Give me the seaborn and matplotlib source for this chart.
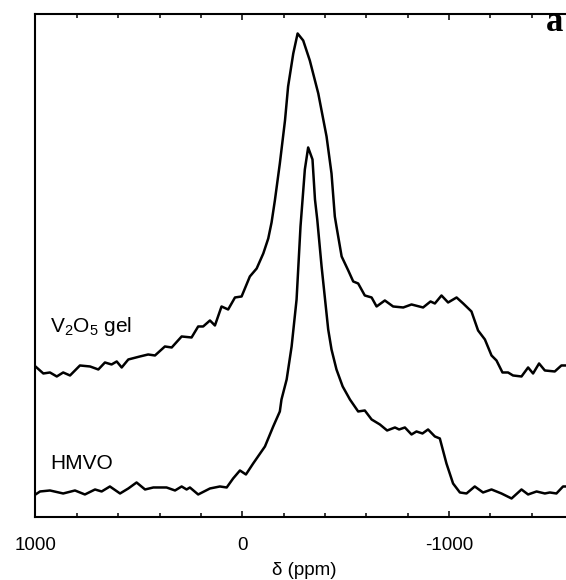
import matplotlib
matplotlib.use('Agg')
import matplotlib.pyplot as plt
import pandas as pd
import seaborn as sns
from matplotlib.ticker import MultipleLocator

# chemical shift (ppm) and intensity (a.u.)
gel_ppm = [1000, 962, 930, 897, 866, 833, 785, 736, 696, 664, 632, 607, 583, 551, 495, 455, 422,
           374, 341, 293, 245, 213, 189, 156, 132, 100, 68, 35, 3, -37, -70, -102, -126, -142,
           -158, -182, -207, -222, -247, -268, -295, -327, -368, -408, -432, -448, -456, -481,
           -513, -537, -561, -593, -626, -650, -690, -730, -779, -819, -875, -911, -932, -964,
           -996, -1037, -1069, -1109, -1141, -1174, -1206, -1230, -1259, -1286, -1310, -1351,
           -1383, -1407, -1436, -1464, -1512, -1544, -1565, -1600]
gel_int = [151, 144, 145, 141, 145, 142, 152, 151, 148, 155, 153, 156, 150, 158, 161, 163, 162,
           171, 170, 181, 180, 191, 191, 197, 192, 211, 208, 220, 221, 241, 249, 264, 279, 295,
           317, 354, 397, 431, 464, 484, 477, 457, 424, 381, 344, 301, 291, 261,
           247, 236, 234, 222, 220, 211, 217, 211, 210, 213, 210, 216, 214, 222,
           215, 220, 214, 206, 187, 178, 162, 157, 145, 145, 142, 141,
           150, 144, 154, 147, 146, 152, 152, 152]

hmvo_ppm = [1000, 978, 930, 866, 809, 761, 712, 680, 640, 591, 551, 511, 470, 430, 366, 325, 293,
            269, 253, 213, 156, 108, 75, 44, 11, -18, -53, -110, -150, -182, -190, -215, -239,
            -263, -282, -292, -303, -319, -340, -352, -363, -384, -416, -432, -456, -486, -513,
            -521, -561, -593, -626, -666, -701, -739, -759, -787, -819, -843, -872, -899, -932,
            -956, -988, -1020, -1053, -1085, -1125, -1165, -1206, -1254, -1303, -1351, -1383,
            -1424, -1464, -1488, -1520, -1552, -1569, -1600]
hmvo_int = [23, 26, 27, 24, 27, 23, 28, 26, 31, 24, 29, 35, 28, 30, 30, 27, 31,
            28, 30, 23, 29, 31, 30, 39, 47, 43, 54, 71, 91, 106, 118, 138, 171,
            218, 291, 318, 348, 370, 358, 318, 298, 251, 188, 168, 148, 131, 121,
            118, 106, 107, 98, 93, 87, 90, 88, 90, 83, 86, 84, 88, 81,
            79, 54, 34, 25, 24, 31, 25, 28, 24, 19, 28, 23,
            26, 24, 25, 24, 31, 31, 28]

sns.set_theme(style='ticks')
plt.rcParams['font.family'] = ['Liberation Sans', 'DejaVu Sans']
plt.rcParams['mathtext.fontset'] = 'custom'
plt.rcParams['mathtext.rm'] = 'Liberation Sans'
plt.rcParams['mathtext.it'] = 'Liberation Sans:italic'
plt.rcParams['axes.unicode_minus'] = False

gel = pd.DataFrame({'ppm': gel_ppm, 'intensity': gel_int})
hmvo = pd.DataFrame({'ppm': hmvo_ppm, 'intensity': hmvo_int})

fig = plt.figure(figsize=(5.66, 5.80), dpi=100)
ax = fig.add_axes([0.0627, 0.1078, 0.9496, 0.8681])

for df in (gel, hmvo):
    sns.lineplot(data=df, x='ppm', y='intensity', sort=False, estimator=None,
                 color='black', lw=1.8, solid_joinstyle='round', ax=ax)

ax.set_xlim(1000, -1600)
ax.set_ylim(0, 503.5)
ax.xaxis.set_major_locator(MultipleLocator(1000))
ax.xaxis.set_minor_locator(MultipleLocator(200))
ax.set_yticks([])
ax.tick_params(axis='x', which='both', direction='in', top=True, bottom=True,
               labelsize=13.5, pad=14, width=1.1, color='black', labelcolor='black')
ax.tick_params(axis='x', which='major', length=4.2)
ax.tick_params(axis='x', which='minor', length=2.7)
ax.set_xlabel('δ (ppm)', fontsize=13.5, labelpad=6, color='black')
ax.set_ylabel('')
for s in ax.spines.values():
    s.set_linewidth(1.5)
    s.set_color('black')

ax.text(930, 185, 'V$_2$O$_5$ gel', fontsize=15, color='black', ha='left', va='baseline')
ax.text(930, 48, 'HMVO', fontsize=15, color='black', ha='left', va='baseline')
ax.text(-1470, 486, 'a', fontsize=25, fontweight='bold', family='Liberation Serif',
        color='black', ha='left', va='baseline')

fig.savefig('out.png', dpi=100)
